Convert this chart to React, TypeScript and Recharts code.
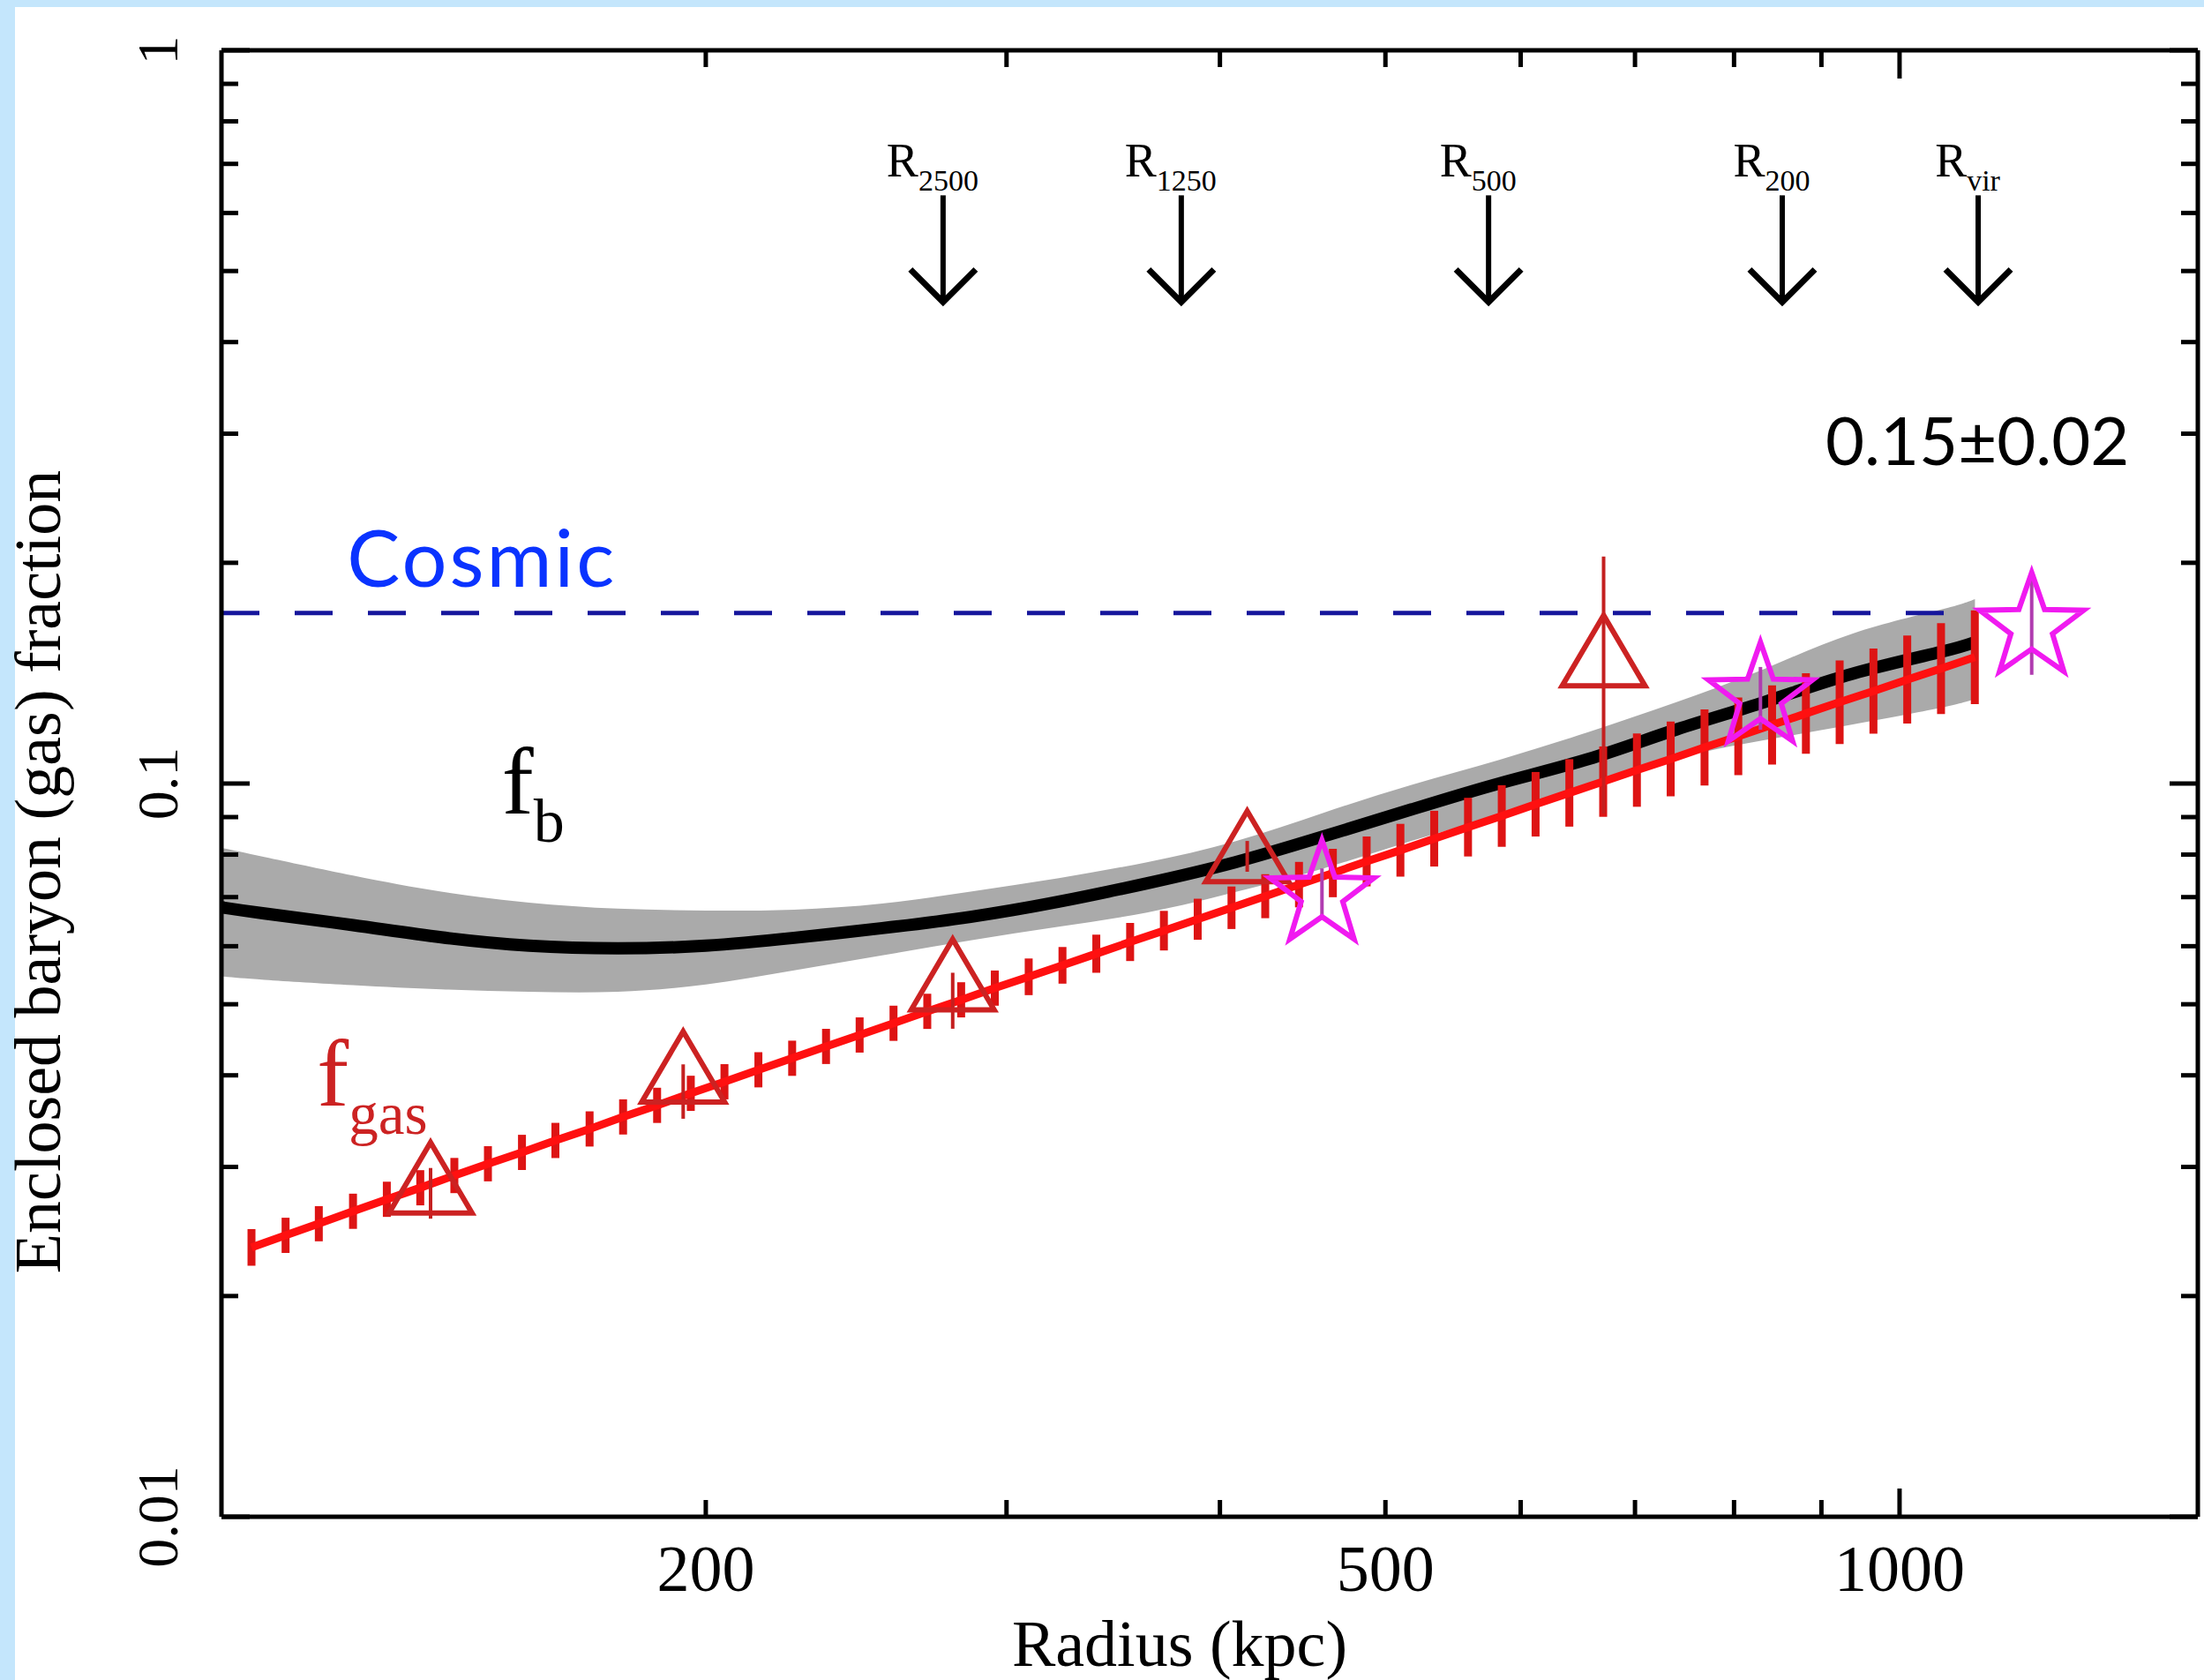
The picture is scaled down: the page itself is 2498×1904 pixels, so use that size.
import React from 'react';
import {
  ComposedChart,
  Line,
  Area,
  Scatter,
  XAxis,
  YAxis,
  ErrorBar,
  ReferenceLine,
  ReferenceDot,
} from 'recharts';

const SERIF = '"Liberation Serif", "Times New Roman", serif';
const SANS = 'Lato, "Open Sans", sans-serif';

// ---------- axes ----------
const xDomain = [104.1, 1495];
const yDomain = [0.01, 1];
const xTicks = [200, 300, 400, 500, 600, 700, 800, 900, 1000];
const xTickLabels = [200, 500, 1000];
const xMajorTicks = [1000];
const yTicks = [
  0.01, 0.02, 0.03, 0.04, 0.05, 0.06, 0.07, 0.08, 0.09,
  0.1, 0.2, 0.3, 0.4, 0.5, 0.6, 0.7, 0.8, 0.9, 1,
];
const yTickLabels = [0.01, 0.1, 1];
const yMajorTicks = [0.01, 0.1, 1];

// ---------- f_gas model (red line with error bars) ----------
const fgasRadius = [
  108.4, 113.5, 118.7, 124.3, 130.1, 136.1, 142.5, 149.1, 156.1, 163.3,
  171.0, 178.9, 187.3, 196.0, 205.1, 214.7, 224.7, 235.2, 246.1, 257.6,
  269.6, 282.2, 295.3, 309.1, 323.5, 338.6, 354.4, 370.9, 388.2, 406.3,
  425.2, 445.0, 465.8, 487.5, 510.2, 534.0, 558.9, 584.9, 612.2, 640.7,
  670.6, 701.8, 734.5, 768.8, 804.6, 842.1, 881.4, 922.4, 965.4, 1010.4,
  1057.5, 1106.8,
];
const fgasValue = [
  0.0233, 0.0242, 0.0251, 0.0261, 0.0271, 0.0281, 0.0292, 0.0303, 0.0314, 0.0326,
  0.0338, 0.0351, 0.0364, 0.0378, 0.0392, 0.0407, 0.0422, 0.0438, 0.0454, 0.0471,
  0.0489, 0.0507, 0.0526, 0.0545, 0.0565, 0.0586, 0.0608, 0.0630, 0.0653, 0.0677,
  0.0702, 0.0728, 0.0755, 0.0783, 0.0811, 0.0841, 0.0872, 0.0903, 0.0937, 0.0971,
  0.1006, 0.1043, 0.1080, 0.1120, 0.1160, 0.1202, 0.1246, 0.1291, 0.1337, 0.1386,
  0.1435, 0.1487,
];
// half-length of each error bar, in dex
const fgasErrDex = [
  0.025, 0.024, 0.024, 0.024, 0.024, 0.024, 0.024, 0.024, 0.024, 0.024,
  0.024, 0.024, 0.024, 0.024, 0.024, 0.024, 0.024, 0.024, 0.024, 0.024,
  0.024, 0.024, 0.024, 0.025, 0.025, 0.026, 0.026, 0.027, 0.028, 0.029,
  0.030, 0.031, 0.033, 0.034, 0.036, 0.038, 0.040, 0.042, 0.044, 0.046,
  0.048, 0.050, 0.051, 0.052, 0.053, 0.054, 0.055, 0.057, 0.058, 0.060,
  0.062, 0.064,
];

// ---------- f_b (black line with grey band) ----------
const fbRadius = [
  104.1, 110.3, 124.3, 140.0, 157.6, 177.6, 200.0, 225.3, 253.7, 285.8, 321.9,
  362.5, 408.3, 459.9, 518.0, 583.4, 657.2, 740.2, 833.7, 939.0, 1057.6, 1107.0,
];
const fbValue = [
  0.0678, 0.0665, 0.0641, 0.0617, 0.0601, 0.0596, 0.0601, 0.0616, 0.0635, 0.0658, 0.0690,
  0.0731, 0.0781, 0.0847, 0.0922, 0.1001, 0.1080, 0.1185, 0.1292, 0.1412, 0.1512, 0.1559,
];
const fbLow = [
  0.0546, 0.0540, 0.0531, 0.0524, 0.0520, 0.0520, 0.0532, 0.0556, 0.0583, 0.0611, 0.0638,
  0.0667, 0.0711, 0.0766, 0.0835, 0.0905, 0.0984, 0.1080, 0.1146, 0.1204, 0.1269, 0.1305,
];
const fbHigh = [
  0.0817, 0.0794, 0.0749, 0.0712, 0.0688, 0.0675, 0.0671, 0.0673, 0.0686, 0.0712, 0.0743,
  0.0781, 0.0834, 0.0912, 0.0996, 0.1078, 0.1175, 0.1291, 0.1434, 0.1602, 0.1727, 0.1785,
];

// ---------- triangles (f_gas measurements) ----------
const triRadius = [138, 194, 279, 415, 671];
const triValue = [0.029, 0.0411, 0.0549, 0.0821, 0.1518];
const triLow = [0.0255, 0.0349, 0.0463, 0.0758, 0.091];
const triHigh = [0.0299, 0.0414, 0.0552, 0.0835, 0.204];

// ---------- stars ----------
const starRadius = [459, 829, 1195];
const starValue = [0.0705, 0.1313, 0.1634];
const starLow = [0.0658, 0.1184, 0.1407];
const starHigh = [0.0766, 0.1442, 0.194];

// ---------- cosmic fraction ----------
const cosmicValue = 0.1708;
const cosmicEndRadius = 1074;

// ---------- overdensity radius arrows ----------
const arrowRadius = [275.4, 379.7, 574.6, 853.7, 1111.8];
const arrowSub = ['2500', '1250', '500', '200', 'vir'];
const arrowTipValue = 0.4535;

// ---------- text annotations (data coords) ----------
const cosmicLabelPos = { r: 123.3, v: 0.1856 };
const fracLabelPos = { r: 905, v: 0.2722 };
const fbLabelPos = { r: 151.9, v: 0.091 };
const fgasLabelPos = { r: 118.4, v: 0.03634 };

// ---------- built tables ----------
const fgasData = fgasRadius.map((r, i) => {
  const v = fgasValue[i];
  const e = fgasErrDex[i];
  return { r, fgas: v, err: [v - v * Math.pow(10, -e), v * Math.pow(10, e) - v] };
});
const fbData = fbRadius.map((r, i) => ({ r, fb: fbValue[i] }));
const bandData = fbRadius.map((r, i) => ({ r, band: [fbLow[i], fbHigh[i]] }));
const triData = triRadius.map((r, i) => ({
  r,
  tri: triValue[i],
  err: [triValue[i] - triLow[i], triHigh[i] - triValue[i]],
}));
const starData = starRadius.map((r, i) => ({
  r,
  star: starValue[i],
  err: [starValue[i] - starLow[i], starHigh[i] - starValue[i]],
}));
const arrowData = arrowRadius.map((r, i) => ({ r, tip: arrowTipValue, sub: arrowSub[i] }));

// ---------- styling ----------
const AXIS_W = 5;
const TICK_MINOR = 19;
const TICK_MAJOR = 32;

const fmtY = (v: number) => (v === 1 ? '1' : v === 0.1 ? '0.1' : '0.01');

const BottomTick = (props: any) => {
  const { x, y, payload } = props;
  const v = payload.value;
  const len = xMajorTicks.includes(v) ? TICK_MAJOR : TICK_MINOR;
  return (
    <g>
      <line x1={x} x2={x} y1={y} y2={y - len} stroke="#000" strokeWidth={AXIS_W} />
      {xTickLabels.includes(v) && (
        <text x={x} y={y + 84} textAnchor="middle" fontFamily={SERIF} fontSize={74} fill="#000">
          {v}
        </text>
      )}
    </g>
  );
};

const TopTick = (props: any) => {
  const { x, y, payload } = props;
  const len = xMajorTicks.includes(payload.value) ? TICK_MAJOR : TICK_MINOR;
  return <line x1={x} x2={x} y1={y} y2={y + len} stroke="#000" strokeWidth={AXIS_W} />;
};

const LeftTick = (props: any) => {
  const { x, y, payload } = props;
  const v = payload.value;
  const len = yMajorTicks.includes(v) ? TICK_MAJOR : TICK_MINOR;
  return (
    <g>
      <line x1={x} x2={x + len} y1={y} y2={y} stroke="#000" strokeWidth={AXIS_W} />
      {yTickLabels.includes(v) && (
        <text
          transform={`translate(${x - 50},${y}) rotate(-90)`}
          textAnchor="middle"
          fontFamily={SERIF}
          fontSize={66}
          fill="#000"
        >
          {fmtY(v)}
        </text>
      )}
    </g>
  );
};

const RightTick = (props: any) => {
  const { x, y, payload } = props;
  const len = yMajorTicks.includes(payload.value) ? TICK_MAJOR : TICK_MINOR;
  return <line x1={x} x2={x - len} y1={y} y2={y} stroke="#000" strokeWidth={AXIS_W} />;
};

const XTitle = (props: any) => {
  const vb = props.viewBox;
  return (
    <text
      x={vb.x + vb.width / 2 - 34}
      y={vb.y + 169}
      textAnchor="middle"
      fontFamily={SERIF}
      fontSize={74}
      fill="#000"
    >
      Radius (kpc)
    </text>
  );
};

const YTitle = (props: any) => {
  const vb = props.viewBox;
  const cx = vb.x + 68;
  const cy = vb.y + vb.height / 2 + 100;
  return (
    <text
      transform={`translate(${cx},${cy}) rotate(-90)`}
      textAnchor="middle"
      fontFamily={SERIF}
      fontSize={74}
      fill="#000"
    >
      Enclosed baryon (gas) fraction
    </text>
  );
};

const TriangleShape = (props: any) => {
  const { cx, cy } = props;
  if (cx == null || cy == null) return <g />;
  const w = 94;
  const h = 80;
  const pts = `${cx},${cy - h / 2} ${cx + w / 2},${cy + h / 2} ${cx - w / 2},${cy + h / 2}`;
  return <polygon points={pts} fill="none" stroke="#cc2222" strokeWidth={6} strokeLinejoin="miter" />;
};

const StarShape = (props: any) => {
  const { cx, cy } = props;
  if (cx == null || cy == null) return <g />;
  const R = 62;
  const rIn = R * 0.4;
  const pts: string[] = [];
  for (let k = 0; k < 10; k++) {
    const a = ((-90 + k * 36) * Math.PI) / 180;
    const rad = k % 2 === 0 ? R : rIn;
    pts.push(`${cx + rad * Math.cos(a)},${cy + rad * Math.sin(a)}`);
  }
  return <polygon points={pts.join(' ')} fill="none" stroke="#f01af0" strokeWidth={6} />;
};

const ArrowShape = (props: any) => {
  const { cx, cy, payload } = props;
  if (cx == null || cy == null) return <g />;
  return (
    <g>
      <line x1={cx} x2={cx} y1={cy - 121} y2={cy} stroke="#000" strokeWidth={6} />
      <polyline
        points={`${cx - 37},${cy - 37} ${cx},${cy} ${cx + 37},${cy - 37}`}
        fill="none"
        stroke="#000"
        strokeWidth={7}
      />
      <text x={cx - 12} y={cy - 142} textAnchor="middle" fontFamily={SERIF} fontSize={54} fill="#000">
        R
        <tspan fontSize={34} dy={16}>
          {payload.sub}
        </tspan>
      </text>
    </g>
  );
};

const textDot = (render: (cx: number, cy: number) => React.ReactElement) => (p: any) =>
  p.cx == null ? <g /> : render(p.cx, p.cy);

export default function App() {
  return (
    <div
      style={{
        position: 'absolute',
        left: 0,
        top: 0,
        width: 2498,
        height: 1904,
        background: '#c4e6fc',
        overflow: 'hidden',
      }}
    >
      <div style={{ position: 'absolute', left: 17, top: 8, width: 2481, height: 1896, background: '#ffffff' }} />
      <div style={{ position: 'absolute', left: 0, top: 0 }}>
        <ComposedChart width={2498} height={1904} margin={{ top: 56, right: 6, bottom: 0, left: 0 }}>
          <XAxis
            dataKey="r"
            type="number"
            scale="log"
            domain={xDomain}
            allowDataOverflow
            ticks={xTicks}
            interval={0}
            height={185}
            tickSize={0}
            tickMargin={0}
            tick={<BottomTick />}
            tickLine={false}
            axisLine={{ stroke: '#000', strokeWidth: AXIS_W }}
            label={XTitle}
          />
          <XAxis
            xAxisId="top"
            orientation="top"
            dataKey="r"
            type="number"
            scale="log"
            domain={xDomain}
            allowDataOverflow
            ticks={xTicks}
            interval={0}
            height={1}
            tickSize={0}
            tickMargin={0}
            tick={<TopTick />}
            tickLine={false}
            axisLine={{ stroke: '#000', strokeWidth: AXIS_W }}
          />
          <YAxis
            type="number"
            scale="log"
            domain={yDomain}
            allowDataOverflow
            ticks={yTicks}
            interval={0}
            width={251}
            tickSize={0}
            tickMargin={0}
            tick={<LeftTick />}
            tickLine={false}
            axisLine={{ stroke: '#000', strokeWidth: AXIS_W }}
            label={YTitle}
          />
          <YAxis
            yAxisId="right"
            orientation="right"
            type="number"
            scale="log"
            domain={yDomain}
            allowDataOverflow
            ticks={yTicks}
            interval={0}
            width={1}
            tickSize={0}
            tickMargin={0}
            tick={<RightTick />}
            tickLine={false}
            axisLine={{ stroke: '#000', strokeWidth: AXIS_W }}
          />

          <Area
            data={bandData}
            dataKey="band"
            type="natural"
            stroke="none"
            fill="#aaaaaa"
            fillOpacity={1}
            isAnimationActive={false}
            activeDot={false}
          />
          <Line
            data={fbData}
            dataKey="fb"
            type="natural"
            stroke="#000000"
            strokeWidth={14}
            dot={false}
            activeDot={false}
            isAnimationActive={false}
          />
          <ReferenceLine
            segment={[
              { x: xDomain[0], y: cosmicValue },
              { x: cosmicEndRadius, y: cosmicValue },
            ]}
            stroke="#16169c"
            strokeWidth={5}
            strokeDasharray="43 40"
          />
          <Line
            data={fgasData}
            dataKey="fgas"
            type="linear"
            stroke="#ff1010"
            strokeWidth={9}
            dot={false}
            activeDot={false}
            isAnimationActive={false}
          >
            <ErrorBar dataKey="err" direction="y" width={0} stroke="#dd1414" strokeWidth={9} isAnimationActive={false} />
          </Line>
          <Scatter data={triData} dataKey="tri" shape={TriangleShape} isAnimationActive={false}>
            <ErrorBar dataKey="err" direction="y" width={0} stroke="#c42020" strokeWidth={4} isAnimationActive={false} />
          </Scatter>
          <Scatter data={starData} dataKey="star" shape={StarShape} isAnimationActive={false}>
            <ErrorBar dataKey="err" direction="y" width={0} stroke="#b03cb0" strokeWidth={4} isAnimationActive={false} />
          </Scatter>
          <Scatter data={arrowData} dataKey="tip" shape={ArrowShape} isAnimationActive={false} />

          <ReferenceDot
            x={cosmicLabelPos.r}
            y={cosmicLabelPos.v}
            r={0}
            shape={textDot((cx, cy) => (
              <text x={cx} y={cy} fontFamily={SANS} fontSize={90} letterSpacing={3} fill="#0a33ff">
                Cosmic
              </text>
            ))}
          />
          <ReferenceDot
            x={fracLabelPos.r}
            y={fracLabelPos.v}
            r={0}
            shape={textDot((cx, cy) => (
              <text x={cx} y={cy} fontFamily={SANS} fontSize={76} fill="#000">
                0.15±0.02
              </text>
            ))}
          />
          <ReferenceDot
            x={fbLabelPos.r}
            y={fbLabelPos.v}
            r={0}
            shape={textDot((cx, cy) => (
              <text x={cx} y={cy} fontFamily={SERIF} fontSize={108} fill="#000">
                f
                <tspan fontSize={70} dy={32}>
                  b
                </tspan>
              </text>
            ))}
          />
          <ReferenceDot
            x={fgasLabelPos.r}
            y={fgasLabelPos.v}
            r={0}
            shape={textDot((cx, cy) => (
              <text x={cx} y={cy} fontFamily={SERIF} fontSize={108} fill="#cc2222">
                f
                <tspan fontSize={67} dy={32}>
                  gas
                </tspan>
              </text>
            ))}
          />
        </ComposedChart>
      </div>
    </div>
  );
}
